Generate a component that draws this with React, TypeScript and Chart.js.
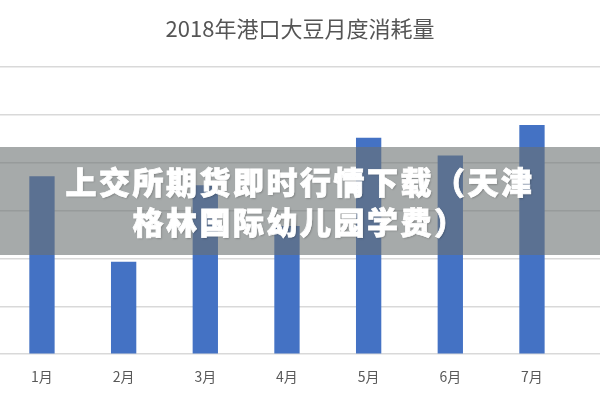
import React, { useEffect, useRef } from "react";
import { Chart, registerables } from "chart.js";

Chart.register(...registerables);

const chartTitle = "2018年港口大豆月度消耗量";
const months = ["1月", "2月", "3月", "4月", "5月", "6月", "7月"];
const consumption = [372, 193, 353, 268, 452, 415, 479];
const yMin = 0;
const yMax = 600;
const yStep = 100;
const bannerLines = ["上交所期货即时行情下载（天津", "格林国际幼儿园学费）"];

export default function App() {
  const canvasRef = useRef<HTMLCanvasElement | null>(null);

  useEffect(() => {
    if (!canvasRef.current) return;
    const chart = new Chart(canvasRef.current, {
      type: "bar",
      data: {
        datasets: [
          {
            label: "消耗量",
            data: consumption.map((v, i) => ({ x: i + 1, y: v })),
            backgroundColor: "#4472C4",
            borderWidth: 0,
            barPercentage: 0.31,
            categoryPercentage: 1,
          },
        ],
      },
      options: {
        animation: false,
        responsive: true,
        maintainAspectRatio: false,
        layout: { padding: { left: 0, right: 0, top: 0, bottom: 1 } },
        plugins: {
          legend: { display: false },
          tooltip: { enabled: false },
          title: {
            display: true,
            text: chartTitle,
            color: "#555555",
            font: { family: "'Noto Sans CJK SC', sans-serif", size: 22, weight: "normal" },
            padding: { top: 15, bottom: 25.6 },
          },
        },
        scales: {
          x: {
            type: "linear",
            min: 0.486,
            max: 7.833,
            offset: false,
            grid: { display: false, drawTicks: false },
            border: { display: false },
            afterBuildTicks: (scale: any) => {
              scale.ticks = months.map((_, i) => ({ value: i + 1 }));
            },
            ticks: {
              autoSkip: false,
              maxRotation: 0,
              padding: 14,
              color: "#595959",
              font: { family: "'Noto Sans CJK SC', sans-serif", size: 14 },
              callback: (v: any) => months[Number(v) - 1] ?? "",
            },
          },
          y: {
            min: yMin,
            max: yMax,
            grid: { color: "#d9d9d9", lineWidth: 1.5, drawTicks: false },
            border: { display: false },
            ticks: { display: false, stepSize: yStep },
          },
        },
      },
    });
    return () => chart.destroy();
  }, []);

  return (
    <div
      style={{
        position: "fixed",
        left: 0,
        top: 0,
        width: 600,
        height: 400,
        background: "#ffffff",
        overflow: "hidden",
      }}
    >
      <canvas ref={canvasRef} />
      <div
        style={{
          position: "absolute",
          left: 0,
          top: 147,
          width: 600,
          height: 108,
          background: "rgba(106,113,113,0.6)",
          display: "flex",
          flexDirection: "column",
          justifyContent: "center",
          alignItems: "center",
          color: "#ffffff",
          fontFamily: "'Noto Sans CJK SC', sans-serif",
          fontWeight: 900,
          fontSize: 31,
          lineHeight: "40px",
          letterSpacing: "2.5px",
          WebkitTextStroke: "0.8px #ffffff",
          textShadow: "1px 1px 2px rgba(0,0,0,0.25)",
          whiteSpace: "nowrap",
        }}
      >
        {bannerLines.map((line) => (
          <div key={line}>{line}</div>
        ))}
      </div>
    </div>
  );
}
